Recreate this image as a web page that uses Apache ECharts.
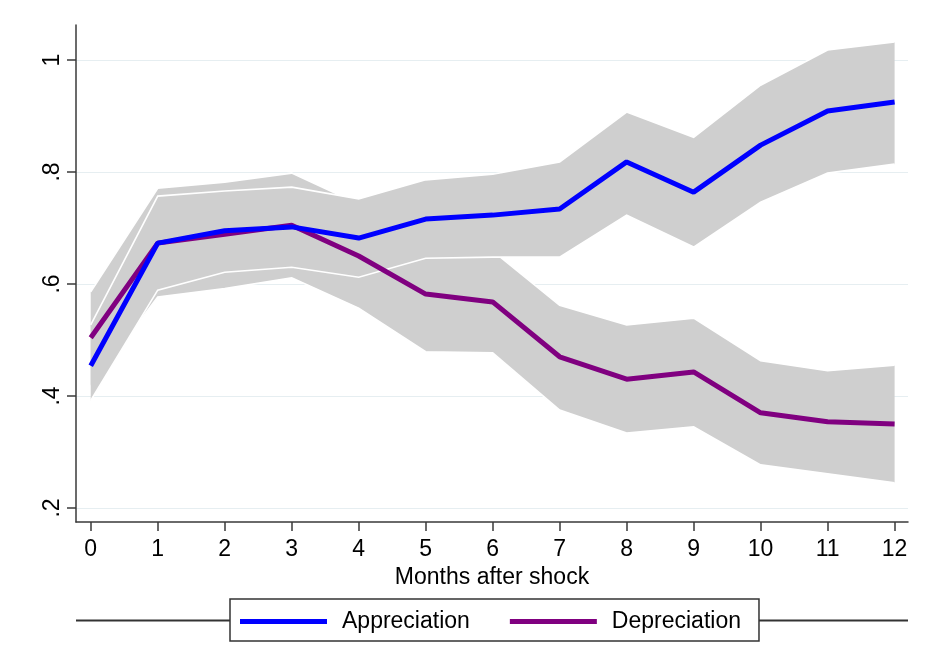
<!DOCTYPE html>
<html>
<head>
<meta charset="utf-8">
<script src="https://cdn.jsdelivr.net/npm/echarts@6/dist/echarts.min.js"></script>
<style>
  html, body { margin: 0; padding: 0; background: #ffffff; }
  #chart { width: 928px; height: 656px; }
</style>
</head>
<body>
<div id="chart"></div>
<script>
// Impulse responses by month with confidence bands
const months = [0, 1, 2, 3, 4, 5, 6, 7, 8, 9, 10, 11, 12];

const appreciation     = [0.454, 0.673, 0.695, 0.702, 0.682, 0.716, 0.723, 0.734, 0.818, 0.764, 0.848, 0.909, 0.925];
const appreciationLow  = [0.392, 0.589, 0.621, 0.630, 0.612, 0.646, 0.648, 0.648, 0.723, 0.666, 0.746, 0.798, 0.814];
const appreciationHigh = [0.527, 0.757, 0.766, 0.773, 0.752, 0.786, 0.796, 0.818, 0.907, 0.862, 0.955, 1.018, 1.032];

const depreciation     = [0.504, 0.673, 0.689, 0.705, 0.650, 0.582, 0.568, 0.470, 0.430, 0.443, 0.370, 0.354, 0.350];
const depreciationLow  = [0.418, 0.577, 0.592, 0.611, 0.557, 0.479, 0.477, 0.375, 0.334, 0.345, 0.277, 0.261, 0.245];
const depreciationHigh = [0.586, 0.771, 0.782, 0.798, 0.743, 0.685, 0.659, 0.562, 0.527, 0.539, 0.463, 0.445, 0.455];

const xTickValues = [0, 1, 2, 3, 4, 5, 6, 7, 8, 9, 10, 11, 12];
const yTickValues = [0.2, 0.4, 0.6, 0.8, 1.0];
const yTickLabels = ['.2', '.4', '.6', '.8', '1'];

const FONT = "'Liberation Sans', Arial, sans-serif";
const AXIS_COLOR = '#3a3a3a';
const BAND_FILL = '#cfcfcf';

// Shaded band between low and high, outlined in white; drawn once as one polygon
function bandRenderer(low, high) {
  return function (params, api) {
    if (params.dataIndex !== 0) return null;
    const upper = months.map((m, i) => api.coord([m, high[i]]));
    const lower = months.map((m, i) => api.coord([m, low[i]]));
    const poly = upper.concat(lower.slice().reverse());
    return {
      type: 'group',
      children: [
        { type: 'polygon', shape: { points: poly }, style: { fill: BAND_FILL, stroke: null } },
        { type: 'polyline', shape: { points: upper }, style: { fill: null, stroke: '#ffffff', lineWidth: 1.6 } },
        { type: 'polyline', shape: { points: lower }, style: { fill: null, stroke: '#ffffff', lineWidth: 1.6 } }
      ]
    };
  };
}

function bandData(low, high) {
  return months.map((m, i) => [m, low[i], high[i]]);
}

const chart = echarts.init(document.getElementById('chart'), null, { renderer: 'canvas' });

chart.setOption({
  animation: false,
  backgroundColor: '#ffffff',
  textStyle: { fontFamily: FONT },
  grid: { left: 76, right: 20, top: 25, bottom: 134, containLabel: false },
  xAxis: {
    type: 'value',
    min: -0.22,
    max: 12.2,
    name: 'Months after shock',
    nameLocation: 'middle',
    nameGap: 39,
    nameTextStyle: { fontSize: 23, color: '#000', fontFamily: FONT },
    axisLine: { show: true, onZero: false, lineStyle: { color: AXIS_COLOR, width: 1.5 } },
    axisTick: { show: true, length: 9, customValues: xTickValues, lineStyle: { color: AXIS_COLOR, width: 1.5 } },
    axisLabel: { customValues: xTickValues, fontSize: 23, color: '#000', margin: 16, fontFamily: FONT },
    splitLine: { show: false }
  },
  yAxis: {
    type: 'value',
    min: 0.175,
    max: 1.0625,
    axisLine: { show: true, onZero: false, lineStyle: { color: AXIS_COLOR, width: 1.5 } },
    axisTick: { show: true, length: 9, customValues: yTickValues, lineStyle: { color: AXIS_COLOR, width: 1.5 } },
    axisLabel: {
      customValues: yTickValues,
      rotate: 90,
      fontSize: 23,
      color: '#000',
      margin: 12,
      fontFamily: FONT,
      formatter: function (v) {
        let best = 0;
        yTickValues.forEach((t, i) => { if (Math.abs(t - v) < Math.abs(yTickValues[best] - v)) best = i; });
        return yTickLabels[best];
      }
    },
    splitLine: { show: true, lineStyle: { color: '#e6eef1', width: 1.2 } }
  },
  legend: {
    data: ['Appreciation', 'Depreciation'],
    left: 230,
    top: 599,
    orient: 'horizontal',
    icon: 'rect',
    itemWidth: 87,
    itemHeight: 5,
    itemGap: 40,
    padding: [11, 18, 8, 10],
    borderColor: '#333333',
    borderWidth: 1.5,
    backgroundColor: '#ffffff',
    textStyle: { fontSize: 23, color: '#000', fontFamily: FONT, padding: [0, 0, 0, 10] }
  },
  graphic: [
    { type: 'line', shape: { x1: 76, y1: 620.5, x2: 230, y2: 620.5 }, style: { stroke: '#333333', lineWidth: 1.8 }, z: -1 },
    { type: 'line', shape: { x1: 759, y1: 620.5, x2: 908, y2: 620.5 }, style: { stroke: '#333333', lineWidth: 1.8 }, z: -1 }
  ],
  series: [
    {
      type: 'custom',
      name: 'Depreciation band',
      renderItem: bandRenderer(depreciationLow, depreciationHigh),
      data: bandData(depreciationLow, depreciationHigh),
      encode: { x: 0, y: [1, 2] },
      silent: true,
      z: 1
    },
    {
      type: 'custom',
      name: 'Appreciation band',
      renderItem: bandRenderer(appreciationLow, appreciationHigh),
      data: bandData(appreciationLow, appreciationHigh),
      encode: { x: 0, y: [1, 2] },
      silent: true,
      z: 2
    },
    {
      type: 'line',
      name: 'Depreciation',
      data: months.map((m, i) => [m, depreciation[i]]),
      showSymbol: false,
      symbol: 'none',
      color: '#800080',
      lineStyle: { color: '#800080', width: 5 },
      z: 3
    },
    {
      type: 'line',
      name: 'Appreciation',
      data: months.map((m, i) => [m, appreciation[i]]),
      showSymbol: false,
      symbol: 'none',
      color: '#0000ff',
      lineStyle: { color: '#0000ff', width: 5 },
      z: 4
    }
  ]
});
</script>
</body>
</html>
